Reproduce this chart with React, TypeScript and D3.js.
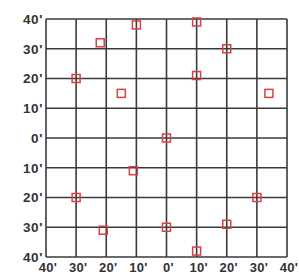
import React from "react";
import * as d3 from "d3";

const width = 299;
const height = 275;
const margin = { top: 19, left: 46, bottom: 18, right: 12 };
const iwidth = width - margin.left - margin.right;
const iheight = height - margin.top - margin.bottom;

// grid ticks, both axes run -40..40
const ticks = [-40, -30, -20, -10, 0, 10, 20, 30, 40];
const tickLabels = ["40'", "30'", "20'", "10'", "0'", "10'", "20'", "30'", "40'"];

// points
const xs = [-30, -22, -10, -15, 10, 20, 10, 34, 0, -11, -30, -21, 0, 10, 20, 30];
const ys = [20, 32, 38, 15, 39, 30, 21, 15, 0, -11, -20, -31, -30, -38, -29, -20];

const App = () => {
  const x = d3.scaleLinear().domain([-40, 40]).range([0, iwidth]);
  const y = d3.scaleLinear().domain([-40, 40]).range([iheight, 0]);
  const font = "'Liberation Sans', Arial, sans-serif";

  return (
    <svg
      width={width}
      height={height}
      style={{ position: "absolute", left: 0, top: 0, background: "#fff" }}
    >
      <g transform={`translate(${margin.left},${margin.top})`}>
        {ticks.map((t) => (
          <line
            key={"v" + t}
            x1={x(t)}
            x2={x(t)}
            y1={0}
            y2={iheight}
            stroke="#3a3a3a"
            strokeWidth={1.6}
          />
        ))}
        {ticks.map((t) => (
          <line
            key={"h" + t}
            x1={0}
            x2={iwidth}
            y1={y(t)}
            y2={y(t)}
            stroke="#3a3a3a"
            strokeWidth={1.6}
          />
        ))}
        {ticks.map((t, i) => (
          <text
            key={"yl" + t}
            x={-3}
            y={y(t)}
            dy="0.36em"
            textAnchor="end"
            fontFamily={font}
            fontWeight="bold"
            fontSize={13.5}
            letterSpacing={0.6}
            fill="#333"
          >
            {tickLabels[ticks.length - 1 - i]}
          </text>
        ))}
        {ticks.map((t, i) => (
          <text
            key={"xl" + t}
            x={x(t) + 2}
            y={iheight + 15}
            textAnchor="middle"
            fontFamily={font}
            fontWeight="bold"
            fontSize={13}
            letterSpacing={0.3}
            fill="#333"
          >
            {tickLabels[i]}
          </text>
        ))}
        {xs.map((v, i) => (
          <rect
            key={"p" + i}
            x={x(v) - 4}
            y={y(ys[i]) - 4}
            width={8}
            height={8}
            fill="none"
            stroke="#d94040"
            strokeWidth={1.5}
          />
        ))}
      </g>
    </svg>
  );
};

export default App;
